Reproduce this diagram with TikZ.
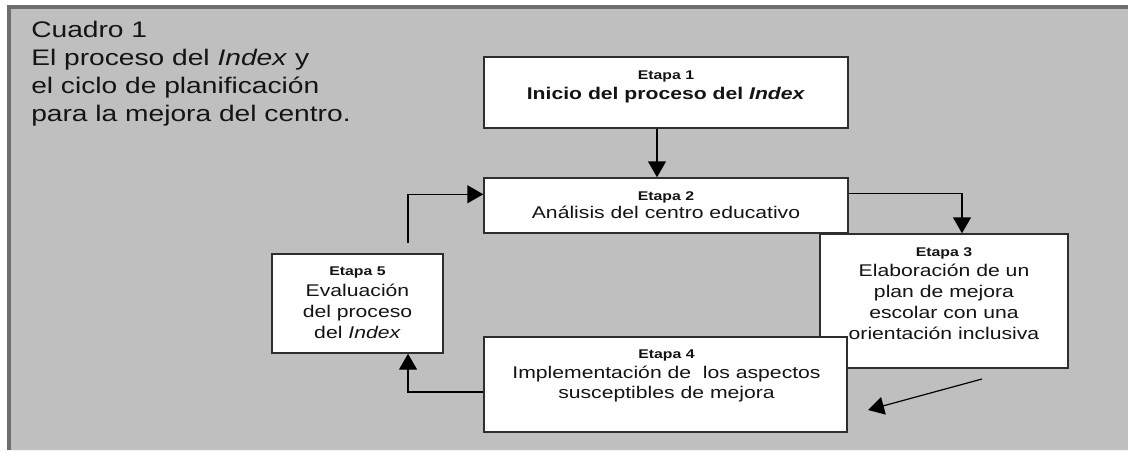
\documentclass[tikz,border=0pt]{standalone}
\usepackage{fontspec}
\setmainfont{Liberation Sans}[FakeStretch=1.25]
\usetikzlibrary{arrows.meta}
\definecolor{bg}{HTML}{BFBFBF}
\definecolor{framec}{HTML}{6E6E6E}
\definecolor{ink}{HTML}{141414}
\definecolor{boxline}{HTML}{2E2E2E}
\newcommand{\etp}{\fontsize{9.5pt}{11pt}\selectfont\bfseries}
\begin{document}
\begin{tikzpicture}[x=0.75pt,y=-0.75pt,
  box/.style={draw=boxline, line width=1.1pt, fill=white, rectangle, inner sep=0pt},
  txt/.style={align=center, inner sep=0pt, text=ink, font=\fontsize{12.7pt}{15.75pt}\selectfont},
  conn/.style={draw=black, line width=1.1pt, -{Triangle[length=12pt,width=13.5pt]}},
]
\useasboundingbox (0,0) rectangle (1128,451);
% background panel
\fill[bg] (7,5) rectangle (1128,451);
\draw[framec, line width=3pt] (9,451) -- (9,7) -- (1128,7);
\draw[white!85!bg, line width=0.8pt] (7,450.5) -- (1128,450.5);

% title
\node[anchor=north west, align=left, inner sep=0pt, text=ink,
      font=\fontsize{16.9pt}{21pt}\selectfont] (title) at (31,21)
  {Cuadro 1\\El proceso del \textit{Index} y\\el ciclo de planificación\\para la mejora del centro.};

% boxes
\node[box, minimum width=273pt, minimum height=53.25pt] (B1) at (666,92.5) {};
\node[box, minimum width=273pt, minimum height=41.25pt] (B2) at (666,205.5) {};
\node[box, minimum width=186pt, minimum height=100.5pt] (B3) at (944,301) {};
\node[txt] (T3) at (944,293.8) {{\etp Etapa 3}\\[-1.1pt]Elaboración de un\\plan de mejora\\escolar con una\\orientación inclusiva};
\node[box, minimum width=272.25pt, minimum height=71.25pt] (B4) at (665.5,384.5) {};
\node[box, minimum width=128.25pt, minimum height=74.25pt] (B5) at (357.5,303.5) {};

% texts
\node[txt] (T1) at (666,86.8) {{\etp Etapa 1}\\[-1.1pt]\textbf{Inicio del proceso del \textit{Index}}};
\node[txt] (T2) at (666,205) {{\etp Etapa 2}\\[-1.9pt]Análisis del centro educativo};
\node[txt] (T4) at (666.5,376) {{\etp Etapa 4}\\[-0.6pt]Implementación de\ \ los aspectos\\[-0.75pt]susceptibles de mejora};
\node[txt] (T5) at (357.5,302.7) {{\etp Etapa 5}\\[0.4pt]Evaluación\\del proceso\\del \textit{Index}};

% connectors
\coordinate (c5) at (408,243);
\coordinate (d1) at (982,379);
\coordinate (d2) at (868,410);
\draw[conn] ([xshift=-6.75pt]B1.south) -- ([xshift=-6.75pt]B2.north);
\draw[conn] ([yshift=-12pt]B2.north east) -| ([xshift=13.5pt]B3.north);
\draw[conn] (c5) |- ([yshift=-12.75pt]B2.north west);
\draw[conn] ([yshift=-5.6pt]B4.west) -| ([xshift=37.9pt]B5.south);
\draw[conn, line width=0.9pt] (d1) -- (d2);
\end{tikzpicture}
\end{document}
